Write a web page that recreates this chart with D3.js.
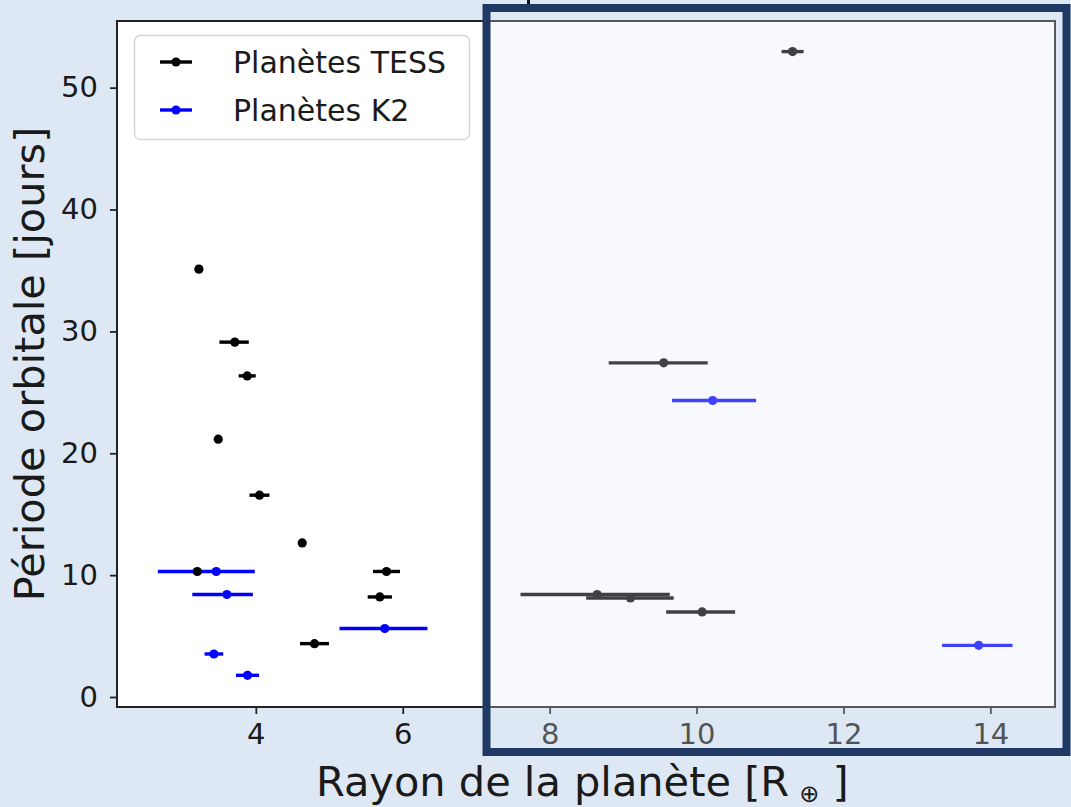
<!DOCTYPE html>
<html><head><meta charset="utf-8">
<script src="https://cdn.jsdelivr.net/npm/d3@7"></script>
<style>
html,body{margin:0;padding:0;background:#dde8f4;}
svg{display:block;font-family:"DejaVu Sans",sans-serif;}
</style></head>
<body>
<svg id="c" width="1071" height="807"></svg>
<script>
// ---- data ----
const tessRadius  = [3.225, 3.714, 3.883, 3.488, 4.05, 4.632, 3.203, 5.779, 5.688, 4.799, 11.307, 9.553, 8.647, 9.100, 10.076];
const tessErrLo   = [0.03, 0.21, 0.116, 0.02, 0.136, 0.05, 0.02, 0.184, 0.165, 0.197, 0.15, 0.749, 1.044, 0.603, 0.49];
const tessErrHi   = [0.03, 0.19, 0.116, 0.02, 0.136, 0.05, 0.02, 0.184, 0.165, 0.197, 0.15, 0.599, 0.988, 0.589, 0.449];
const tessPeriod  = [35.11, 29.12, 26.35, 21.16, 16.56, 12.64, 10.30, 10.30, 8.21, 4.38, 52.96, 27.42, 8.41, 8.13, 6.98];

const k2Radius = [3.461, 3.606, 3.429, 3.887, 5.756, 10.22, 13.841];
const k2ErrLo  = [0.795, 0.471, 0.127, 0.157, 0.617, 0.553, 0.498];
const k2ErrHi  = [0.525, 0.354, 0.127, 0.157, 0.581, 0.591, 0.461];
const k2Period = [10.30, 8.41, 3.53, 1.78, 5.62, 24.33, 4.24];

const xTicks = [4, 6, 8, 10, 12, 14];
const yTicks = [0, 10, 20, 30, 40, 50];
const seriesNames = ["Planètes TESS", "Planètes K2"];
const seriesColors = ["#000000", "#0000ff"];

// ---- layout ----
const svg = d3.select("#c");
const L = 117, R = 1055, T = 21, B = 707;
const x = d3.scaleLinear().domain([2.11, 14.88]).range([L, R]);
const y = d3.scaleLinear().domain([-0.82, 55.47]).range([B, T]);

svg.append("rect").attr("width", 1071).attr("height", 807).attr("fill", "#dde8f4");
svg.append("rect").attr("x", L).attr("y", T).attr("width", R - L).attr("height", B - T).attr("fill", "#ffffff");

const series = [
  {r: tessRadius, lo: tessErrLo, hi: tessErrHi, p: tessPeriod, c: seriesColors[0]},
  {r: k2Radius, lo: k2ErrLo, hi: k2ErrHi, p: k2Period, c: seriesColors[1]}
];
const plot = svg.append("g");
// error bars first (lower zorder)
series.forEach(s => {
  s.r.forEach((v, i) => {
    plot.append("line")
      .attr("x1", x(v - s.lo[i])).attr("x2", x(v + s.hi[i]))
      .attr("y1", y(s.p[i])).attr("y2", y(s.p[i]))
      .attr("stroke", s.c).attr("stroke-width", 3.4);
  });
});
series.forEach(s => {
  s.r.forEach((v, i) => {
    plot.append("circle").attr("cx", x(v)).attr("cy", y(s.p[i])).attr("r", 4.6).attr("fill", s.c);
  });
});

// axes
const fs = 29;
const xAxis = svg.append("g").attr("transform", `translate(0,${B})`)
  .call(d3.axisBottom(x).tickValues(xTicks).tickSize(7).tickPadding(9).tickFormat(d3.format("d")));
const yAxis = svg.append("g").attr("transform", `translate(${L},0)`)
  .call(d3.axisLeft(y).tickValues(yTicks).tickSize(7).tickPadding(12).tickFormat(d3.format("d")));
[xAxis, yAxis].forEach(a => {
  a.select(".domain").remove();
  a.selectAll(".tick line").attr("stroke", "#222").attr("stroke-width", 1.8);
  a.selectAll(".tick text").attr("fill", "#1a1a1a").style("font-size", fs + "px").style("font-family", "DejaVu Sans");
});
svg.append("rect").attr("x", L).attr("y", T).attr("width", R - L).attr("height", B - T)
  .attr("fill", "none").attr("stroke", "#222").attr("stroke-width", 2);

// legend
const lg = svg.append("g");
lg.append("rect").attr("x", 134.5).attr("y", 35.5).attr("width", 335).attr("height", 104).attr("rx", 6)
  .attr("fill", "#ffffff").attr("fill-opacity", 0.85).attr("stroke", "#d6d6d6").attr("stroke-width", 1.5);
seriesNames.forEach((n, i) => {
  const yy = 62 + i * 48;
  lg.append("line").attr("x1", 160).attr("x2", 192).attr("y1", yy).attr("y2", yy)
    .attr("stroke", seriesColors[i]).attr("stroke-width", 3.4);
  lg.append("circle").attr("cx", 176).attr("cy", yy).attr("r", 4.6).attr("fill", seriesColors[i]);
  lg.append("text").attr("x", 233).attr("y", yy + 10.5).attr("fill", "#1a1a1a")
    .style("font-size", "30px").text(n);
});

// axis labels
svg.append("text").attr("transform", "translate(44,364) rotate(-90)").attr("text-anchor", "middle")
  .attr("fill", "#1a1a1a").style("font-size", "41.5px").text("Période orbitale [jours]");
const xl = svg.append("text").attr("x", 316).attr("y", 796).attr("fill", "#1a1a1a").style("font-size", "41.5px");
xl.append("tspan").text("Rayon de la planète [R");
xl.append("tspan").attr("dx", 10).attr("dy", 6).style("font-size", "24px").text("⊕");
xl.append("tspan").attr("dy", -6).text(" ]");

// cropped title fragment at top
svg.append("rect").attr("x", 527).attr("y", 0).attr("width", 3).attr("height", 5).attr("fill", "#111");

// highlight box overlay
svg.append("rect").attr("x", 490).attr("y", 12).attr("width", 571).attr("height", 736)
  .attr("fill", "rgb(226,233,246)").attr("fill-opacity", 0.28);
svg.append("rect").attr("x", 486.5).attr("y", 8).attr("width", 580).attr("height", 744)
  .attr("fill", "none").attr("stroke", "#1f3864").attr("stroke-width", 8);
</script>
</body></html>
